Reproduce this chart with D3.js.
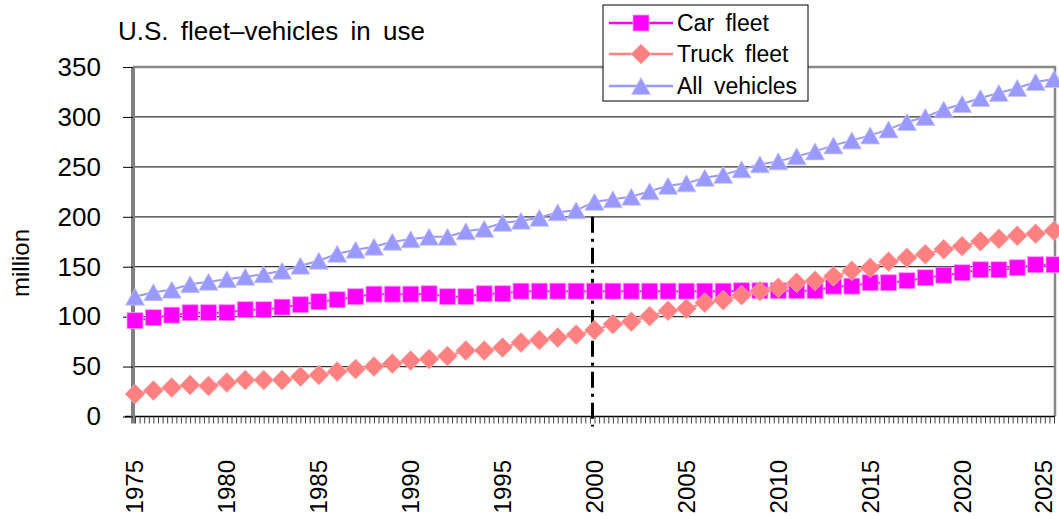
<!DOCTYPE html>
<html>
<head>
<meta charset="utf-8">
<script src="https://cdn.jsdelivr.net/npm/d3@7"></script>
<style>
  body { margin: 0; background: #fff; }
  svg { display: block; font-family: "Liberation Sans", Arial, sans-serif; }
</style>
</head>
<body>
<div id="chart"></div>
<script>
// data
var years = [1975, 1976, 1977, 1978, 1979, 1980, 1981, 1982, 1983, 1984,
             1985, 1986, 1987, 1988, 1989, 1990, 1991, 1992, 1993, 1994,
             1995, 1996, 1997, 1998, 1999, 2000, 2001, 2002, 2003, 2004,
             2005, 2006, 2007, 2008, 2009, 2010, 2011, 2012, 2013, 2014,
             2015, 2016, 2017, 2018, 2019, 2020, 2021, 2022, 2023, 2024, 2025];
var carFleet = [96, 99, 101.5, 104, 104, 104, 107, 107, 109.5, 112,
                115, 117, 120, 122.5, 122.5, 122.5, 123, 120, 120, 123,
                123, 125.5, 125.5, 125.5, 125.5, 125.5, 125.5, 125.5, 125.5, 125.5,
                125.5, 125.5, 125.5, 126, 126, 126, 126, 126, 130.5, 130.5,
                134, 134, 136, 139, 141.5, 144, 147, 147, 149, 152, 152];
var truckFleet = [22.5, 26, 29, 31.5, 30.5, 34, 36.5, 36.5, 36.5, 40,
                  41.5, 45, 47.5, 50, 53, 56, 57.5, 60.5, 66, 66,
                  69, 74, 76.5, 79, 82, 86.5, 92.5, 95, 100.5, 106,
                  108, 114, 116.5, 121.5, 125.5, 129, 134, 136, 140.5, 146,
                  149, 155, 159, 162.5, 167.5, 170.5, 175.5, 178, 181, 183, 186];
var allVehicles = [120, 124.5, 127, 132.5, 135, 137.5, 140, 142.5, 146, 151,
                   156, 163, 167, 170, 175, 177.5, 180, 180, 185.5, 188,
                   194, 196, 199, 204.5, 206.5, 215, 217.5, 220, 225.5, 231,
                   233.5, 239, 242, 247.5, 252.5, 255.5, 260.5, 265.5, 271.5, 276.5,
                   281.5, 287.5, 295, 300, 307.5, 313, 319, 324, 329, 335, 338];
var yTicks = [0, 50, 100, 150, 200, 250, 300, 350];
var xLabels = [1975, 1980, 1985, 1990, 1995, 2000, 2005, 2010, 2015, 2020, 2025];
var projectionYear = 2000;

var width = 1059, height = 519;
var plotLeft = 133, plotRight = 1055, plotTop = 67, plotBottom = 416.5;

var svg = d3.select("#chart").append("svg")
    .attr("width", width).attr("height", height);

var x = d3.scaleLinear().domain([1975, 2025]).range([135, 1054]);
var y = d3.scaleLinear().domain([0, 350]).range([plotBottom, plotTop]);

// gridlines
svg.append("g").selectAll("line")
    .data(yTicks.filter(function(d) { return d > 0 && d < 350; }))
    .enter().append("line")
    .attr("x1", plotLeft).attr("x2", plotRight)
    .attr("y1", function(d) { return y(d); })
    .attr("y2", function(d) { return y(d); })
    .attr("stroke", "#333").attr("stroke-width", 1.2);

// plot border (top + right)
svg.append("path")
    .attr("d", "M" + plotLeft + "," + y(350) + "H" + plotRight + "V" + plotBottom)
    .attr("fill", "none").attr("stroke", "#888").attr("stroke-width", 2.5);

// quarterly minor ticks on x
var quarters = [];
for (var q = 1975; q <= 2025.01; q += 0.25) quarters.push(q);
svg.append("g")
    .attr("transform", "translate(0," + plotBottom + ")")
    .call(d3.axisBottom(x).tickValues(quarters).tickFormat("").tickSizeInner(7).tickSizeOuter(0))
    .call(function(g) {
      g.select(".domain").attr("d", "M" + (plotLeft - 8) + ",0H" + plotRight).attr("stroke", "#000").attr("stroke-width", 1.5);
      g.selectAll(".tick line").attr("stroke", "#444");
    });

// y axis
svg.append("g")
    .attr("transform", "translate(" + plotLeft + ",0)")
    .call(d3.axisLeft(y).tickValues(yTicks).tickSizeInner(10).tickSizeOuter(0).tickPadding(22))
    .call(function(g) {
      g.select(".domain").attr("stroke", "#808080").attr("stroke-width", 4)
        .attr("d", "M0," + plotTop + "V" + (plotBottom + 7));
      g.selectAll(".tick line").attr("stroke", "#000");
      g.selectAll(".tick text").attr("font-size", 26).attr("fill", "#000")
        .attr("font-family", "Liberation Sans, Arial, sans-serif");
    });

// x labels, rotated (kept inside the picture at the right edge)
svg.append("g").selectAll("text")
    .data(xLabels).enter().append("text")
    .attr("transform", function(d) {
      var px = Math.min(x(d), width - 15);
      return "translate(" + px + ",460) rotate(-90)";
    })
    .attr("text-anchor", "end").attr("dy", "0.35em")
    .attr("font-size", 24)
    .text(function(d) { return d; });

// projection divider
svg.append("line")
    .attr("x1", x(projectionYear) - 2).attr("x2", x(projectionYear) - 2)
    .attr("y1", y(200)).attr("y2", plotBottom + 10)
    .attr("stroke", "#000").attr("stroke-width", 3)
    .attr("stroke-dasharray", "16,6,3,6");

// markers
var shapes = {
  square: "M-8,-8H8V8H-8Z",
  diamond: "M0,-10L10,0L0,10L-10,0Z",
  triangle: "M0,-8.5L9.5,8.5L-9.5,8.5Z"
};
var series = [
  { name: "Car fleet", values: carFleet, color: "#FF00FF", edge: "#FF9CFF", shape: "square" },
  { name: "Truck fleet", values: truckFleet, color: "#FF8080", edge: "#FFB0B0", shape: "diamond" },
  { name: "All vehicles", values: allVehicles, color: "#9999FF", edge: "#C4C4FF", shape: "triangle" }
];

var line = d3.line()
    .x(function(d, i) { return x(years[i]); })
    .y(function(d) { return y(d); });

series.forEach(function(s) {
  var g = svg.append("g");
  g.append("path").attr("d", line(s.values))
    .attr("fill", "none").attr("stroke", s.color).attr("stroke-width", 2);
  g.selectAll("path.m").data(s.values).enter().append("path")
    .attr("class", "m")
    .attr("d", shapes[s.shape])
    .attr("transform", function(d, i) { return "translate(" + x(years[i]) + "," + y(d) + ")"; })
    .attr("fill", s.color).attr("stroke", s.edge).attr("stroke-width", 0.8);
});

// title and y label
svg.append("text").attr("x", 118).attr("y", 40)
    .attr("font-size", 26).attr("word-spacing", 5)
    .text("U.S. fleet\u2013vehicles in use");
svg.append("text")
    .attr("transform", "translate(21,263) rotate(-90)")
    .attr("text-anchor", "middle").attr("dy", "0.35em")
    .attr("font-size", 24)
    .text("million");

// legend
var lg = svg.append("g");
lg.append("rect").attr("x", 603).attr("y", 5).attr("width", 205).attr("height", 96)
    .attr("fill", "#fff").attr("stroke", "#000").attr("stroke-width", 1);
var rowY = [23, 54, 86];
series.forEach(function(s, i) {
  lg.append("line").attr("x1", 609).attr("x2", 673)
    .attr("y1", rowY[i]).attr("y2", rowY[i])
    .attr("stroke", s.color).attr("stroke-width", 2.5);
  lg.append("path").attr("d", shapes[s.shape])
    .attr("transform", "translate(641," + rowY[i] + ")")
    .attr("fill", s.color).attr("stroke", s.edge).attr("stroke-width", 0.8);
  lg.append("text").attr("x", 677).attr("y", rowY[i]).attr("dy", "0.36em")
    .attr("font-size", 23).attr("word-spacing", 5)
    .text(s.name);
});
</script>
</body>
</html>
